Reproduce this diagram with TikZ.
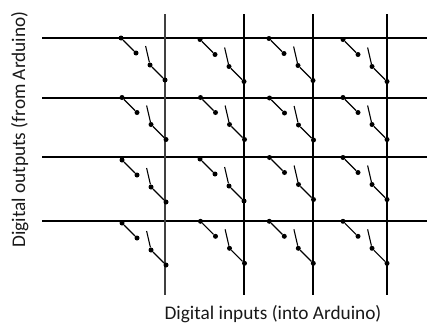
\documentclass[tikz,border=0pt]{standalone}
\usepackage{fontspec}
\setmainfont{Carlito}
\begin{document}
\begin{tikzpicture}[x=1pt,y=-1pt,
  wire/.style={draw=black,line width=1.9pt},
  thinwire/.style={draw=black!75,line width=1.4pt},
  arm/.style={draw=black,line width=1.1pt},
  contact/.style={circle,fill=black,inner sep=0pt,minimum size=5pt},
  label/.style={font=\fontsize{19.3}{22}\selectfont,text=black!90,inner sep=0pt,anchor=base}]
\useasboundingbox (0,0) rectangle (427,324);
% row wires
\foreach \n/\y in {r1/38,r2/97.7,r3/156.8,r4/220.8}{
  \coordinate (\n a) at (42,\y);
  \coordinate (\n b) at (427,\y);
  \draw[wire] (\n a) -- (\n b);
}
% column wires
\foreach \n/\x/\s in {c1/165/thinwire,c2/244/wire,c3/313/wire,c4/387/wire}{
  \coordinate (\n a) at (\x,14);
  \coordinate (\n b) at (\x,294.5);
  \draw[\s] (\n a) -- (\n b);
}
% switches
\foreach \n/\x/\y in {
  a/121/38,b/200/39.5,c/269/38.5,d/343/39.5,
  e/122/97.5,f/200.5/97.5,g/269.5/98,h/343/97.5,
  i/122/160,j/200/159,k/269.5/157.5,l/343/157.5,
  m/122/223,n/200.5/221.3,o/269.3/221.3,p/343/221.3}{
  \node[contact] (\n1) at (\x,\y) {};
  \node[contact] (\n2) at (\x+15,\y+15) {};
  \coordinate (\n3) at (\x+24.6,\y+8);
  \node[contact] (\n4) at (\x+29,\y+27) {};
  \node[contact] (\n5) at (\x+44,\y+42) {};
  \draw[arm] (\n1) -- (\n2);
  \draw[arm] (\n3) -- (\n4) -- (\n5);
}
\node[label] (inlabel) at (273,319.5) {Digital inputs (into Arduino)};
\node[label,rotate=90] (outlabel) at (25,129.5) {Digital outputs (from Arduino)};
\end{tikzpicture}
\end{document}
